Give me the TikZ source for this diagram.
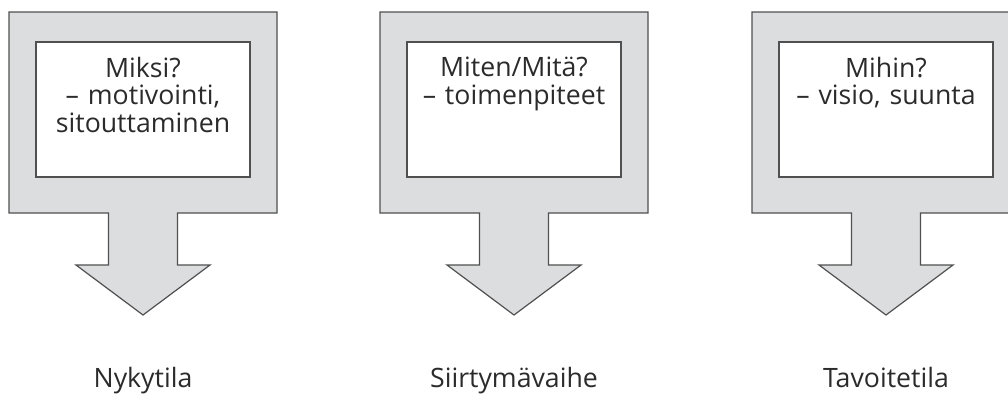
\documentclass[tikz,border=0pt]{standalone}
\usepackage{fontspec}
\setmainfont{Open Sans}
\definecolor{boxgray}{HTML}{DCDDDF}
\definecolor{edgegray}{HTML}{505050}
\definecolor{txtgray}{HTML}{2B2B2B}
\begin{document}
\begin{tikzpicture}[x=0.75pt,y=-0.75pt,
  outershape/.style={draw=edgegray,line width=0.9pt,fill=boxgray,line join=miter},
  innerbox/.style={draw=edgegray,line width=0.8pt,fill=white,minimum width=160.5pt,minimum height=101.25pt,inner sep=0pt},
  boxtext/.style={text=txtgray,font=\fontsize{20}{20.6}\selectfont,align=center,text width=155pt,inner sep=0pt,anchor=north},
  labeltext/.style={text=txtgray,font=\fontsize{20}{20.6}\selectfont,inner sep=0pt,anchor=base}]
\useasboundingbox (0,0) rectangle (1008,396);
\clip (0,0) rectangle (1008,396);
\foreach \cx/\nm/\txt/\lab in {143/a/{Miksi?\\– motivointi,\\sitouttaminen}/Nykytila,
                                514/b/{Miten/Mitä?\\– toimenpiteet}/Siirtymävaihe,
                                886/c/{Mihin?\\– visio, suunta}/Tavoitetila}{
  \draw[outershape] (\cx-134,12) -- (\cx+134,12) -- (\cx+134,213) -- (\cx+34.5,213)
     -- (\cx+34.5,265) -- (\cx+67,265) -- (\cx,315) -- (\cx-67,265) -- (\cx-34.5,265)
     -- (\cx-34.5,213) -- (\cx-134,213) -- cycle;
  \node[innerbox] (box\nm) at (\cx,109.5) {};
  \node[boxtext] (text\nm) at (\cx,57) {\txt};
  \node[labeltext] (label\nm) at (\cx,387) {\lab};
}
\end{tikzpicture}
\end{document}
